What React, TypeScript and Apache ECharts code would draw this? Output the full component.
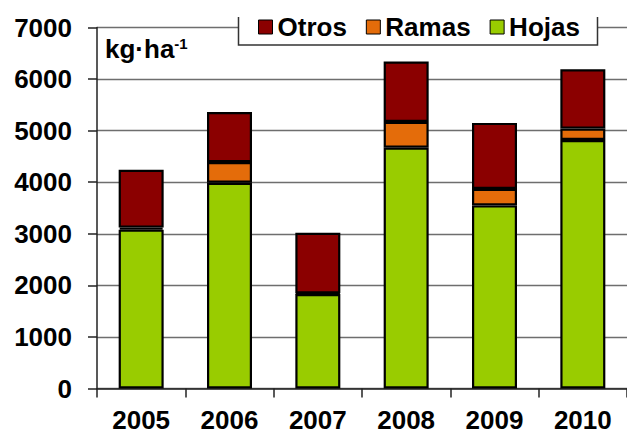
import { useEffect, useRef } from 'react';
import * as echarts from 'echarts';

const years = ['2005', '2006', '2007', '2008', '2009', '2010'];
const hojas = [3080, 3990, 1830, 4670, 3550, 4820];
const ramas = [40, 400, 15, 500, 320, 220];
const otros = [1120, 970, 1175, 1170, 1280, 1150];
const legendNames = ['Otros', 'Ramas', 'Hojas'];

const font = '"Liberation Sans", Arial, sans-serif';

export default function App() {
  const chartRef = useRef<HTMLDivElement>(null);

  useEffect(() => {
    if (!chartRef.current) return;
    const chart = echarts.init(chartRef.current, null, { renderer: 'svg' });

    const barStyle = (color: string) => ({
      color,
      borderColor: '#000',
      borderWidth: 2.2,
    });

    const option: echarts.EChartsOption = {
      animation: false,
      backgroundColor: '#fff',
      grid: { left: 97, top: 27.5, width: 545, height: 361 },
      legend: {
        data: legendNames,
        left: 238,
        top: 14,
        padding: [0, 11, 0, 20],
        itemWidth: 14,
        itemHeight: 14,
        itemGap: 19,
        icon: 'rect',
        itemStyle: { borderColor: '#000', borderWidth: 1 },
        textStyle: { fontSize: 26, fontWeight: 'bold', color: '#000', fontFamily: font },
        z: 5,
      },
      graphic: [
        {
          type: 'rect',
          z: 3,
          shape: { x: 238, y: 14, width: 360, height: 31 },
          style: { fill: '#fff' },
        },
        {
          type: 'polyline',
          z: 4,
          shape: { points: [[238.5, 17], [238.5, 45], [597.5, 45], [597.5, 17]] },
          style: { stroke: '#333', lineWidth: 1.5, fill: 'none' },
        },
        {
          type: 'text',
          z: 4,
          x: 105,
          y: 35.5,
          style: {
            text: '{a|kg·ha}{b|-1}',
            rich: {
              a: { fontSize: 26, fontWeight: 'bold', fontFamily: font, fill: '#000' },
              b: { fontSize: 15, fontWeight: 'bold', fontFamily: font, fill: '#000', verticalAlign: 'top' },
            },
          },
        },
      ],
      xAxis: {
        type: 'category',
        data: years,
        axisLine: { lineStyle: { color: '#222', width: 1.5 } },
        axisTick: { show: true, length: 9, lineStyle: { color: '#222', width: 1.5 } },
        axisLabel: {
          interval: 0,
          margin: 18,
          fontSize: 26,
          fontWeight: 'bold',
          color: '#000',
          fontFamily: font,
        },
      },
      yAxis: {
        type: 'value',
        min: 0,
        max: 7000,
        interval: 1000,
        axisLine: { show: true, lineStyle: { color: '#222', width: 1.5 } },
        axisTick: { show: true, length: 9, lineStyle: { color: '#222', width: 1.5 } },
        splitLine: { lineStyle: { color: '#6e6e6e', width: 1.3 } },
        axisLabel: {
          margin: 25,
          fontSize: 26,
          fontWeight: 'bold',
          color: '#000',
          fontFamily: font,
          formatter: (v: number) => String(v),
        },
      },
      series: [
        { name: 'Hojas', type: 'bar', stack: 'total', barWidth: 45, data: hojas, itemStyle: barStyle('#99CC00') },
        { name: 'Ramas', type: 'bar', stack: 'total', barWidth: 45, data: ramas, itemStyle: barStyle('#E46C0A') },
        { name: 'Otros', type: 'bar', stack: 'total', barWidth: 45, data: otros, itemStyle: barStyle('#8B0000') },
      ],
    };

    chart.setOption(option);

    return () => {
      chart.dispose();
    };
  }, []);

  return (
    <div
      ref={chartRef}
      style={{ position: 'fixed', left: 0, top: 0, width: '627px', height: '433px' }}
    ></div>
  );
}
